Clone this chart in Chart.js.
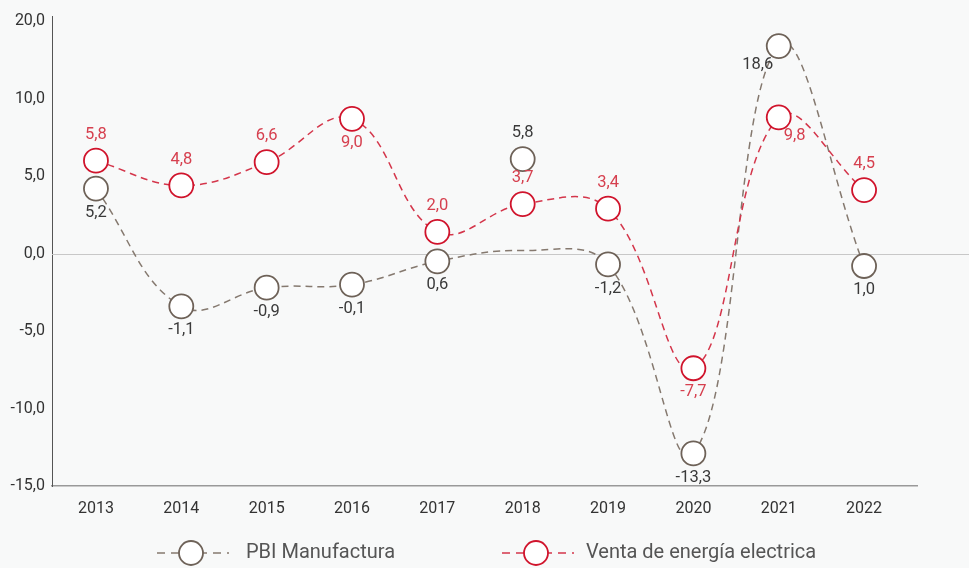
<!DOCTYPE html>
<html>
<head>
<meta charset="utf-8">
<script src="https://cdn.jsdelivr.net/npm/chart.js@4"></script>
<style>
  html, body { margin: 0; padding: 0; background: #f8f9f9; }
  #wrap { width: 969px; height: 568px; position: relative; }
</style>
</head>
<body>
<div id="wrap"><canvas id="chart"></canvas></div>
<script>
// === DATA ===
const years = ['2013', '2014', '2015', '2016', '2017', '2018', '2019', '2020', '2021', '2022'];
// PBI Manufactura: the dashed curve and the circles don't agree in 2018 in the source
const pbiLine   = [4.2, -3.4, -2.2, -2.0, -0.5, 0.2, -0.7, -12.9, 13.4, -0.8];
const pbiPoints = [4.2, -3.4, -2.2, -2.0, -0.5, 6.1, -0.7, -12.9, 13.4, -0.8];
const pbiLabels = ['5,2', '-1,1', '-0,9', '-0,1', '0,6', '5,8', '-1,2', '-13,3', '18,6', '1,0'];
// Venta de energía electrica
const ventaPoints = [6.0, 4.4, 5.9, 8.7, 1.4, 3.2, 2.9, -7.4, 8.8, 4.1];
const ventaLabels = ['5,8', '4,8', '6,6', '9,0', '2,0', '3,7', '3,4', '-7,7', '9,8', '4,5'];
// y axis ticks (source labels the top tick "20,0")
const yTickValues = [-15, -10, -5, 0, 5, 10, 15];
const yTickLabels = ['-15,0', '-10,0', '-5,0', '0,0', '5,0', '10,0', '20,0'];

// === STYLE ===
const FONT = 'Roboto, "Open Sans", sans-serif';
const GRAY = '#6e6258';
const GRAY_LINE = '#85796f';
const RED = '#d0142c';
const RED_LINE = '#d4364b';

// where each value label sits: a = above, b = below, bl / br = below left / right
const pbiPlace   = ['b', 'b', 'b', 'b', 'b', 'a', 'b', 'b', 'bl', 'b'];
const ventaPlace = ['a', 'a', 'a', 'b', 'a', 'a', 'a', 'b', 'br', 'a'];
const OFFS = { a: [0, -26], b: [0, 24], bl: [-21, 19], br: [16, 19] };

const xy = arr => arr.map((v, i) => ({ x: i, y: v }));

// zero line runs past the end of the x axis
const zeroLine = {
  id: 'zeroLine',
  beforeDatasetsDraw(chart) {
    const { ctx, chartArea, scales } = chart;
    const y = Math.round(scales.y.getPixelForValue(0)) + 0.5;
    ctx.save();
    ctx.strokeStyle = '#c8c8c8';
    ctx.lineWidth = 1;
    ctx.beginPath();
    ctx.moveTo(chartArea.left, y);
    ctx.lineTo(chart.width, y);
    ctx.stroke();
    ctx.restore();
  }
};

// value labels
const valueLabels = {
  id: 'valueLabels',
  afterDatasetsDraw(chart) {
    const ctx = chart.ctx;
    const sets = [
      { idx: 2, texts: pbiLabels, place: pbiPlace, color: '#3a3a3a' },
      { idx: 1, texts: ventaLabels, place: ventaPlace, color: '#d6404f' }
    ];
    ctx.save();
    ctx.font = '16.5px ' + FONT;
    ctx.textAlign = 'center';
    ctx.textBaseline = 'middle';
    sets.forEach(s => {
      const meta = chart.getDatasetMeta(s.idx);
      ctx.fillStyle = s.color;
      meta.data.forEach((pt, i) => {
        const o = OFFS[s.place[i]];
        ctx.fillText(s.texts[i], pt.x + o[0], pt.y + o[1]);
      });
    });
    ctx.restore();
  }
};

// legend: dashed line with a circle, like the source
const legendBox = {
  id: 'legendBox',
  afterDraw(chart) {
    const ctx = chart.ctx;
    const y = 553;
    const items = [
      { cx: 191, tx: 246, text: 'PBI Manufactura', line: GRAY_LINE, border: GRAY },
      { cx: 536, tx: 586, text: 'Venta de energía electrica', line: RED_LINE, border: RED }
    ];
    ctx.save();
    items.forEach(it => {
      ctx.strokeStyle = it.line;
      ctx.lineWidth = 1.5;
      ctx.setLineDash([8, 6]);
      ctx.beginPath();
      ctx.moveTo(it.cx - 34, y);
      ctx.lineTo(it.cx + 38, y);
      ctx.stroke();
      ctx.setLineDash([]);
      ctx.fillStyle = '#fff';
      ctx.strokeStyle = it.border;
      ctx.lineWidth = 1.8;
      ctx.beginPath();
      ctx.arc(it.cx, y, 12, 0, Math.PI * 2);
      ctx.fill();
      ctx.stroke();
      ctx.fillStyle = '#555';
      ctx.font = '20px ' + FONT;
      ctx.textAlign = 'left';
      ctx.textBaseline = 'middle';
      ctx.fillText(it.text, it.tx, y);
    });
    ctx.restore();
  }
};

const pointStyle = border => ({
  pointRadius: 12,
  pointHoverRadius: 12,
  pointBackgroundColor: '#fff',
  pointBorderColor: border,
  pointBorderWidth: 1.8
});

new Chart(document.getElementById('chart'), {
  type: 'line',
  data: {
    datasets: [
      {
        label: 'PBI Manufactura',
        data: xy(pbiLine),
        order: 3,
        borderColor: GRAY_LINE,
        borderWidth: 1.5,
        borderDash: [7, 5],
        pointRadius: 0,
        tension: 0.4,
        fill: false
      },
      {
        label: 'Venta de energía electrica',
        data: xy(ventaPoints),
        order: 2,
        borderColor: RED_LINE,
        borderWidth: 1.5,
        borderDash: [7, 5],
        tension: 0.4,
        fill: false,
        ...pointStyle(RED)
      },
      {
        label: 'PBI Manufactura (puntos)',
        data: xy(pbiPoints),
        order: 1,
        showLine: false,
        ...pointStyle(GRAY)
      }
    ]
  },
  options: {
    responsive: true,
    maintainAspectRatio: false,
    animation: false,
    events: [],
    layout: { padding: { top: 13, right: 52, bottom: 0, left: 0 } },
    plugins: { legend: { display: false }, tooltip: { enabled: false } },
    scales: {
      x: {
        type: 'linear',
        min: -0.515,
        max: 9.62,
        afterBuildTicks: s => { s.ticks = years.map((_, i) => ({ value: i })); },
        afterFit: s => { s.height = 82; },
        grid: { display: false, drawTicks: false },
        border: { display: true, color: '#999', width: 1.5 },
        ticks: {
          padding: 13,
          color: '#333',
          font: { family: FONT, size: 16 },
          callback: v => years[v]
        }
      },
      y: {
        min: -15,
        max: 15.3,
        afterBuildTicks: s => { s.ticks = yTickValues.map(v => ({ value: v })); },
        afterFit: s => { s.width = 52; },
        grid: { display: false, drawTicks: false },
        border: { display: true, color: '#555', width: 1 },
        ticks: {
          padding: 7,
          color: '#333',
          font: { family: FONT, size: 16 },
          callback: (v, i) => yTickLabels[i]
        }
      }
    }
  },
  plugins: [zeroLine, valueLabels, legendBox]
});
</script>
</body>
</html>
